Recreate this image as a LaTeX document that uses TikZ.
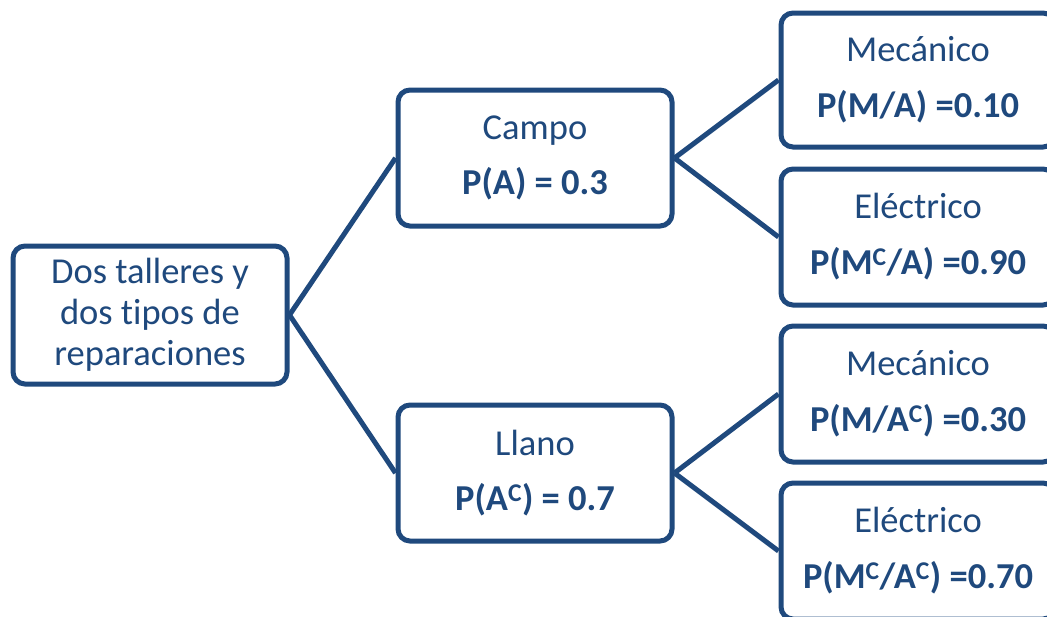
\documentclass[tikz,border=0pt]{standalone}
\usepackage{fontspec}
\setmainfont[Ligatures=NoCommon]{Carlito}
\definecolor{nb}{HTML}{1F497D}
\begin{document}
\begin{tikzpicture}[x=1pt,y=-1pt,
  box/.style={draw=nb, line width=5pt, rounded corners=12pt, fill=white, text=nb,
    align=center, minimum width=274pt, minimum height=136pt, inner sep=0pt,
    font=\fontsize{36.5}{43}\selectfont},
  link/.style={draw=nb, line width=5pt}]
\useasboundingbox (0,0) rectangle (1047,616);
\clip (0,0) rectangle (1047,616);
\node[box, minimum height=138pt, font=\fontsize{36.5}{41}\selectfont] (root) at (150,315) {Dos talleres y\\dos tipos de\\reparaciones};
\node[box] (campo) at (535,158) {Campo\\[12pt]\textbf{P(A) = 0.3}};
\node[box] (llano) at (535,473) {Llano\\[12pt]\textbf{P(A\textsuperscript{C}) = 0.7}};
\node[box, minimum height=134pt] (m1) at (918,80) {Mecánico\\[13pt]\textbf{P(M/A) =0.10}};
\node[box] (e1) at (918,237) {Eléctrico\\[13pt]\textbf{P(M\textsuperscript{C}/A) =0.90}};
\node[box] (m2) at (918,394) {Mecánico\\[13pt]\textbf{P(M/A\textsuperscript{C}) =0.30}};
\node[box] (e2) at (918,551) {Eléctrico\\[13pt]\textbf{P(M\textsuperscript{C}/A\textsuperscript{C}) =0.70}};
\draw[link] (root.east) -- (campo.west);
\draw[link] (root.east) -- (llano.west);
\draw[link] (campo.east) -- (m1.west);
\draw[link] (campo.east) -- (e1.west);
\draw[link] (llano.east) -- (m2.west);
\draw[link] (llano.east) -- (e2.west);
\end{tikzpicture}
\end{document}
